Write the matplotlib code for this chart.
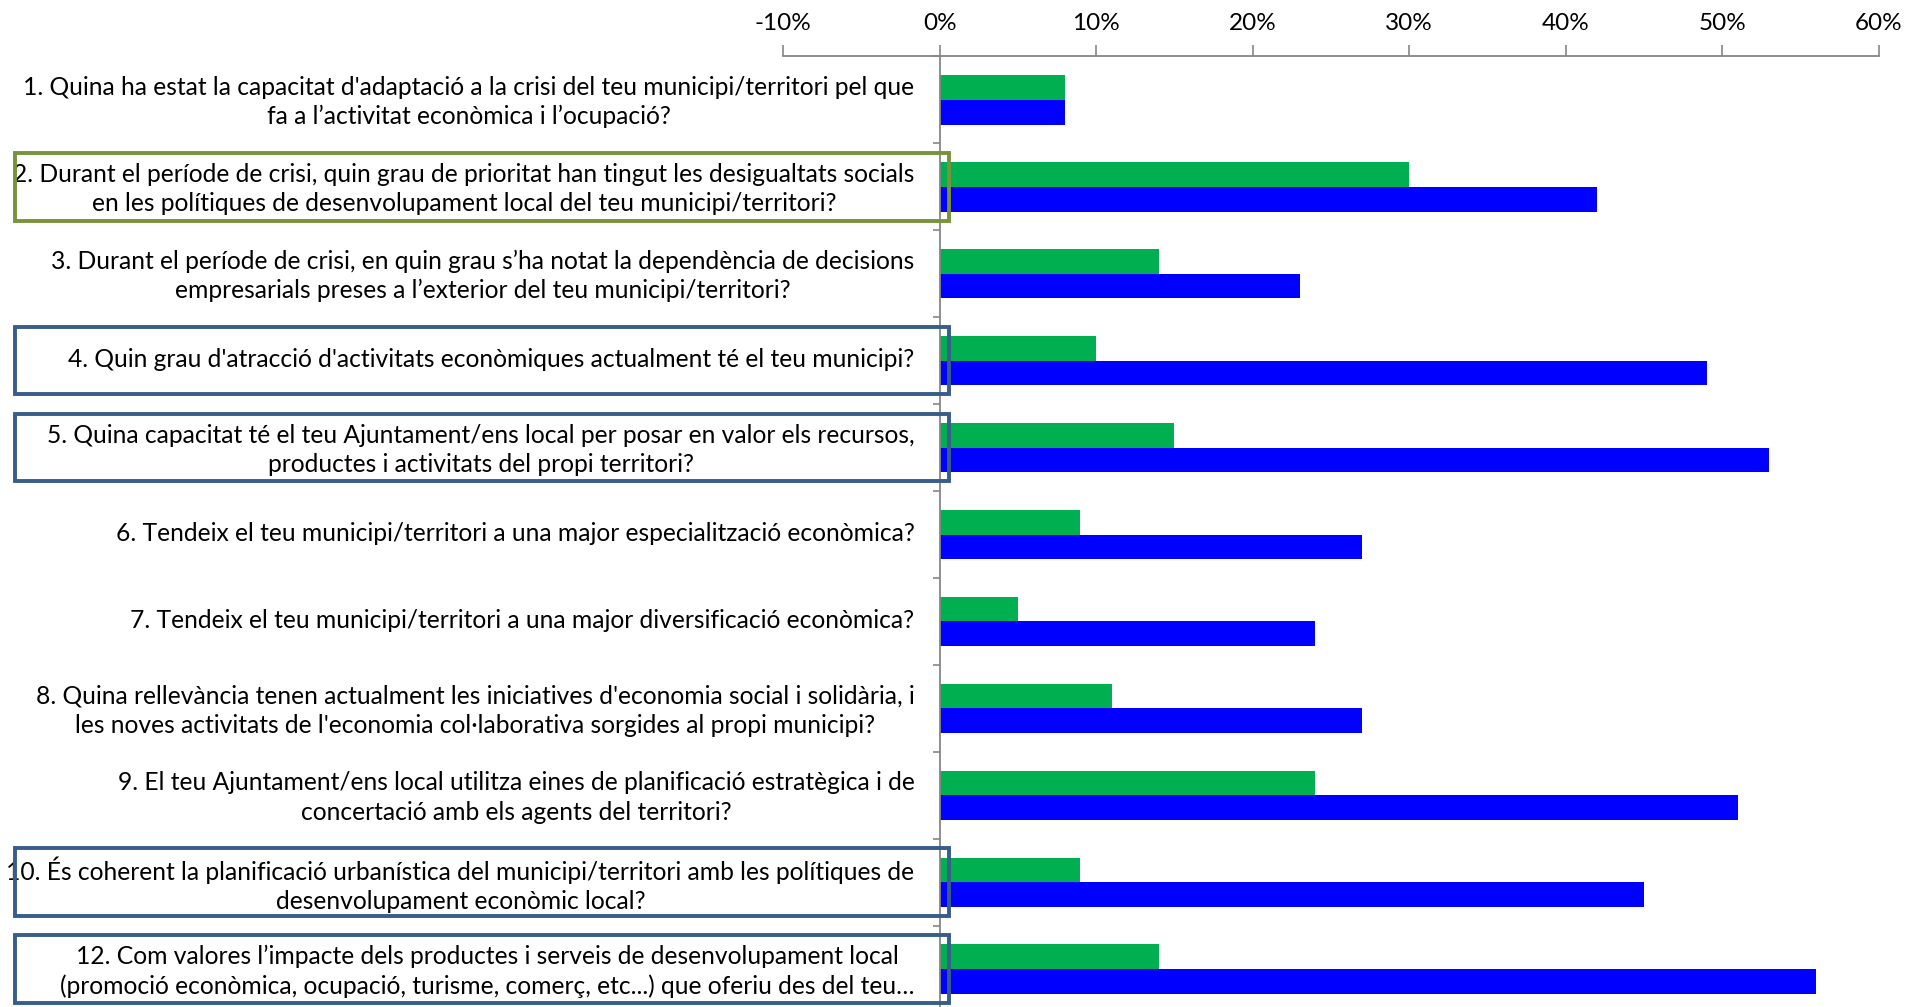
# -*- coding: utf-8 -*-
import numpy as np
import matplotlib
matplotlib.use('Agg')
import matplotlib.pyplot as plt
import matplotlib.transforms as mtransforms
from matplotlib.patches import Rectangle

plt.rcParams['font.family'] = ['Lato', 'DejaVu Sans']

#%% dades
Preguntes = [
    u"1. Quina ha estat la capacitat d'adaptació a la crisi del teu municipi/territori pel que\nfa a l’activitat econòmica i l’ocupació?",
    u"2. Durant el període de crisi, quin grau de prioritat han tingut les desigualtats socials\nen les polítiques de desenvolupament local del teu municipi/territori?",
    u"3. Durant el període de crisi, en quin grau s’ha notat la dependència de decisions\nempresarials preses a l’exterior del teu municipi/territori?",
    u"4. Quin grau d'atracció d'activitats econòmiques actualment té el teu municipi?",
    u"5. Quina capacitat té el teu Ajuntament/ens local per posar en valor els recursos,\nproductes i activitats del propi territori?",
    u"6. Tendeix el teu municipi/territori a una major especialització econòmica?",
    u"7. Tendeix el teu municipi/territori a una major diversificació econòmica?",
    u"8. Quina rellevància tenen actualment les iniciatives d'economia social i solidària, i\nles noves activitats de l'economia col·laborativa sorgides al propi municipi?",
    u"9. El teu Ajuntament/ens local utilitza eines de planificació estratègica i de\nconcertació amb els agents del territori?",
    u"10. És coherent la planificació urbanística del municipi/territori amb les polítiques de\ndesenvolupament econòmic local?",
    u"12. Com valores l’impacte dels productes i serveis de desenvolupament local\n(promoció econòmica, ocupació, turisme, comerç, etc...) que oferiu des del teu…",
]
V_Verd = np.array([0.08, 0.30, 0.14, 0.10, 0.15, 0.09, 0.05, 0.11, 0.24, 0.09, 0.14])
V_Blau = np.array([0.08, 0.42, 0.23, 0.49, 0.53, 0.27, 0.24, 0.27, 0.51, 0.45, 0.56])
X_Ticks = [-0.1, 0.0, 0.1, 0.2, 0.3, 0.4, 0.5, 0.6]
X_Labels = ['-10%', '0%', '10%', '20%', '30%', '40%', '50%', '60%']
# preguntes marcades amb un requadre (index, color)
Marcades = [(1, '#77933C'), (3, '#385D8A'), (4, '#385D8A'), (9, '#385D8A'), (10, '#385D8A')]

#%% grafic
fig = plt.figure(figsize=(19.07, 10.07), dpi=100, facecolor='w')
ax = fig.add_axes([0.4106, -0.0058, 0.5747, 0.9500])

pos = np.arange(len(Preguntes))
h = 0.286
ax.barh(pos - h / 2, V_Verd, height=h, color='#00B050', zorder=2)
ax.barh(pos + h / 2, V_Blau, height=h, color='#0000FF', zorder=2)

ax.set_xlim(-0.1, 0.6)
ax.set_ylim(len(Preguntes) - 0.5, -0.5)

# eix superior
ax.xaxis.tick_top()
ax.set_xticks(X_Ticks)
ax.set_xticklabels(X_Labels, fontsize=17.5)
ax.tick_params(axis='x', direction='out', length=8, width=1.2, color='#868686', pad=8)

# eix vertical a 0
ax.spines['left'].set_position(('data', 0))
for s in ['right', 'bottom']:
    ax.spines[s].set_visible(False)
for s in ['left', 'top']:
    ax.spines[s].set_color('#868686')
    ax.spines[s].set_linewidth(1.3)

ax.set_yticks(pos)
ax.set_yticklabels(Preguntes, fontsize=17.7)
ax.set_yticks(np.arange(-0.5, len(Preguntes), 1.0), minor=True)
ax.tick_params(axis='y', which='major', length=0, pad=18)
ax.tick_params(axis='y', which='minor', length=5, width=1.2, color='#868686', direction='out')
# una mica amunt perque quedi centrat com a l'original
offset = mtransforms.ScaledTranslation(0, 3 / 100., fig.dpi_scale_trans)
for lbl in ax.get_yticklabels():
    lbl.set_multialignment('center')
    lbl.set_linespacing(1.32)
    lbl.set_transform(lbl.get_transform() + offset)

# requadres
trans = mtransforms.blended_transform_factory(fig.transFigure, ax.transData)
for idx, col in Marcades:
    r = Rectangle((0.0077, idx - 0.39), 0.4897, 0.78, transform=trans,
                  fill=False, edgecolor=col, linewidth=2.8, clip_on=False, zorder=5)
    ax.add_patch(r)

fig.savefig('out.png', dpi=100)
